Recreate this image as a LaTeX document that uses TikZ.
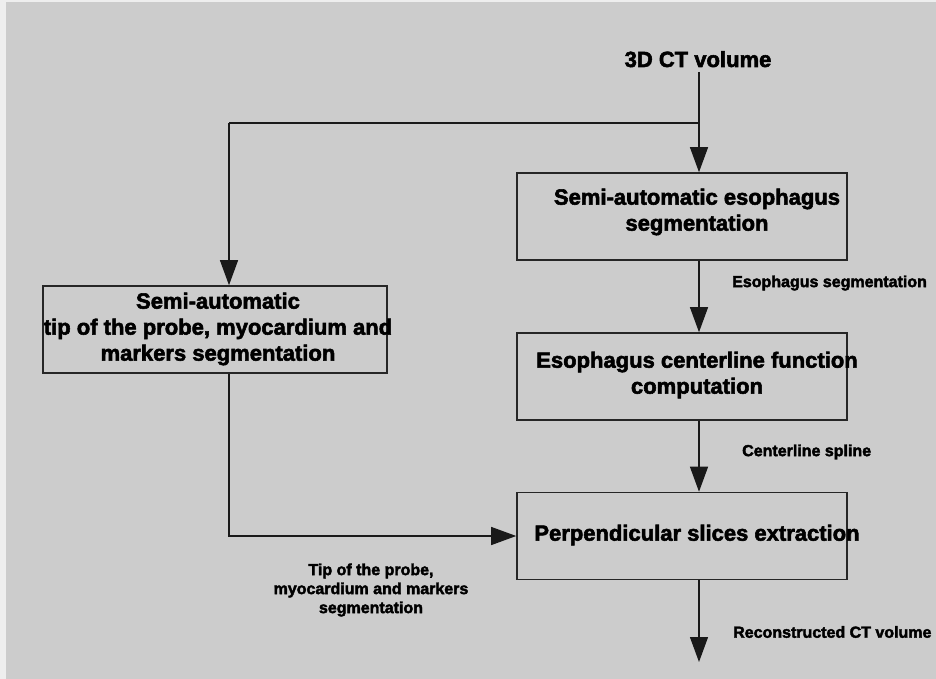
\documentclass[tikz,border=0pt]{standalone}
\usepackage{fontspec}
\setmainfont{Liberation Sans}[BoldFeatures={FakeBold=2.5}]
\usetikzlibrary{arrows.meta,calc}
\definecolor{bggray}{HTML}{CCCCCC}
\definecolor{margin}{HTML}{EEEEEE}
\tikzset{
  boxshape/.style={draw=black!85, line width=1.6pt, minimum width=#1, minimum height=87pt, inner sep=0pt},
  bigtext/.style={font=\fontsize{22pt}{26pt}\selectfont\bfseries, align=center, inner sep=0pt},
  smalltext/.style={font=\fontsize{16pt}{19pt}\selectfont\bfseries, align=center, inner sep=0pt},
  conn/.style={line width=1.2pt, draw=black!90},
  arr/.style={conn, -{Triangle[length=25pt,width=18pt]}},
}
\begin{document}
\begin{tikzpicture}[x=1pt,y=-1pt]
\fill[margin] (0,0) rectangle (936,679);
\fill[bggray] (6,2) rectangle (936,679);
\useasboundingbox (0,0) rectangle (936,679);

% boxes
\node[boxshape=330pt] (b1) at (682,216.5) {};
\node[boxshape=330pt] (b2) at (682,376.5) {};
\node[boxshape=330pt] (b3) at (682,536) {};
\node[boxshape=344pt] (lb) at (215,329.5) {};

% box texts
\node[bigtext] (t1) at (697,212) {Semi-automatic esophagus\\segmentation};
\node[bigtext] (t2) at (697,375) {Esophagus centerline function\\computation};
\node[bigtext] (t3) at (697,535) {Perpendicular slices extraction};
\node[bigtext] (tl) at (218,329) {Semi-automatic\\tip of the probe, myocardium and\\markers segmentation};

% inputs / labels
\node[bigtext, anchor=base] (ct) at (698,67) {3D CT volume};
\node[smalltext, anchor=west] (l1) at (732,283) {Esophagus segmentation};
\node[smalltext, anchor=west] (l2) at (742,452) {Centerline spline};
\node[smalltext, anchor=west] (l3) at (733,632) {Reconstructed CT volume};
\node[smalltext] (l4) at (371,590) {Tip of the probe,\\myocardium and markers\\segmentation};

% helper coordinates
\coordinate (ax) at (699,72);
\coordinate (j) at (699,123);
\coordinate (c1) at (229,123);
\coordinate (out) at (699,662);

% connectors
\draw[arr] (ax) -- (ax |- b1.north);
\draw[conn] (j) -- (c1);
\draw[arr] (c1) -- (c1 |- lb.north);
\draw[arr] (ax |- b1.south) -- (ax |- b2.north);
\draw[arr] (ax |- b2.south) -- (ax |- b3.north);
\draw[arr] (ax |- b3.south) -- (out);
\draw[arr] (c1 |- lb.south) |- (b3.west);
\end{tikzpicture}
\end{document}
